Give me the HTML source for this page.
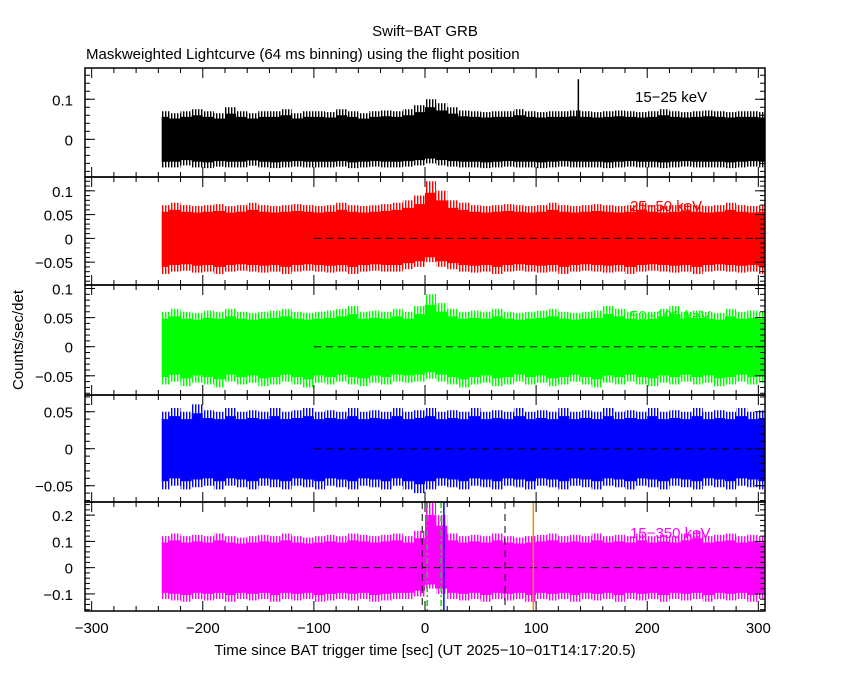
<!DOCTYPE html>
<html><head><meta charset="utf-8"><style>
body{margin:0;background:#fff}
svg text{font-family:"Liberation Sans",sans-serif;font-size:15px}
</style></head><body>
<svg id="c" width="850" height="680" viewBox="0 0 850 680">
<defs id="defs"></defs>
<text x="425" y="36" text-anchor="middle">Swift−BAT GRB</text>
<text x="86" y="59">Maskweighted Lightcurve (64 ms binning) using the flight position</text>
<text transform="translate(23,340) rotate(-90)" text-anchor="middle">Counts/sec/det</text>
<text x="425" y="655" text-anchor="middle">Time since BAT trigger time [sec] (UT 2025−10−01T14:17:20.5)</text>
<g id="g"></g>
</svg>
<script>
const times = [-237,-230,-220,-210,-200,-190,-180,-170,-160,-150,-140,-130,-120,-110,-100,-90,-80,-70,-60,-50,-40,-30,-20,-10,0,10,20,30,40,50,60,70,80,90,100,110,120,130,140,150,160,170,180,190,200,210,220,230,240,250,260,270,280,290,300];
const hi1 = [0.07,0.065,0.07,0.075,0.07,0.065,0.08,0.07,0.065,0.07,0.07,0.075,0.065,0.07,0.07,0.068,0.075,0.07,0.065,0.07,0.072,0.07,0.075,0.085,0.1,0.09,0.08,0.072,0.07,0.068,0.07,0.07,0.075,0.07,0.068,0.07,0.07,0.072,0.07,0.068,0.07,0.072,0.07,0.068,0.07,0.075,0.07,0.068,0.07,0.072,0.07,0.068,0.07,0.07,0.068];
const lo1 = [-0.07,-0.07,-0.065,-0.07,-0.072,-0.068,-0.07,-0.07,-0.066,-0.07,-0.072,-0.07,-0.068,-0.07,-0.07,-0.07,-0.068,-0.072,-0.07,-0.068,-0.07,-0.07,-0.068,-0.065,-0.06,-0.065,-0.068,-0.07,-0.07,-0.072,-0.07,-0.068,-0.07,-0.07,-0.072,-0.07,-0.068,-0.07,-0.07,-0.07,-0.072,-0.07,-0.068,-0.07,-0.07,-0.072,-0.07,-0.068,-0.07,-0.07,-0.07,-0.072,-0.07,-0.068,-0.07];
const hi2 = [0.07,0.075,0.07,0.068,0.07,0.072,0.068,0.07,0.075,0.07,0.068,0.07,0.072,0.07,0.068,0.07,0.075,0.07,0.068,0.07,0.072,0.075,0.08,0.09,0.12,0.1,0.08,0.075,0.07,0.068,0.07,0.072,0.07,0.068,0.07,0.075,0.07,0.068,0.07,0.072,0.07,0.068,0.07,0.075,0.07,0.068,0.07,0.072,0.07,0.068,0.07,0.075,0.07,0.068,0.07];
const lo2 = [-0.075,-0.07,-0.068,-0.072,-0.07,-0.075,-0.07,-0.068,-0.07,-0.072,-0.07,-0.075,-0.07,-0.068,-0.07,-0.072,-0.07,-0.075,-0.07,-0.068,-0.07,-0.07,-0.065,-0.06,-0.05,-0.06,-0.065,-0.07,-0.072,-0.07,-0.075,-0.07,-0.068,-0.07,-0.072,-0.07,-0.075,-0.07,-0.068,-0.07,-0.072,-0.07,-0.075,-0.07,-0.068,-0.07,-0.072,-0.07,-0.075,-0.07,-0.068,-0.07,-0.072,-0.07,-0.075];
const hi3 = [0.06,0.065,0.06,0.058,0.062,0.06,0.065,0.06,0.058,0.06,0.062,0.065,0.06,0.058,0.06,0.062,0.065,0.07,0.06,0.062,0.06,0.065,0.06,0.07,0.09,0.075,0.065,0.06,0.062,0.06,0.065,0.06,0.058,0.06,0.062,0.065,0.06,0.058,0.06,0.062,0.07,0.065,0.06,0.058,0.06,0.065,0.07,0.06,0.062,0.06,0.058,0.065,0.06,0.062,0.06];
const lo3 = [-0.065,-0.06,-0.068,-0.062,-0.065,-0.07,-0.06,-0.065,-0.062,-0.068,-0.065,-0.06,-0.065,-0.07,-0.062,-0.065,-0.06,-0.065,-0.068,-0.062,-0.065,-0.06,-0.062,-0.06,-0.055,-0.06,-0.065,-0.07,-0.065,-0.062,-0.068,-0.065,-0.06,-0.065,-0.062,-0.068,-0.065,-0.06,-0.065,-0.07,-0.062,-0.065,-0.06,-0.065,-0.068,-0.062,-0.065,-0.06,-0.065,-0.062,-0.068,-0.065,-0.06,-0.065,-0.062];
const hi4 = [0.05,0.055,0.05,0.06,0.052,0.05,0.055,0.05,0.052,0.05,0.055,0.05,0.052,0.055,0.05,0.052,0.05,0.055,0.05,0.052,0.05,0.055,0.05,0.052,0.055,0.05,0.052,0.05,0.055,0.05,0.052,0.05,0.055,0.05,0.052,0.05,0.055,0.05,0.052,0.05,0.055,0.05,0.052,0.05,0.055,0.05,0.052,0.05,0.055,0.05,0.052,0.05,0.055,0.05,0.052];
const lo4 = [-0.055,-0.05,-0.055,-0.052,-0.05,-0.055,-0.05,-0.052,-0.055,-0.05,-0.052,-0.055,-0.05,-0.052,-0.055,-0.05,-0.052,-0.055,-0.05,-0.052,-0.055,-0.05,-0.055,-0.06,-0.055,-0.05,-0.052,-0.055,-0.05,-0.052,-0.055,-0.05,-0.052,-0.055,-0.05,-0.052,-0.055,-0.05,-0.052,-0.055,-0.05,-0.052,-0.055,-0.05,-0.052,-0.055,-0.05,-0.052,-0.055,-0.05,-0.052,-0.055,-0.05,-0.052,-0.055];
const hi5 = [0.12,0.13,0.12,0.125,0.12,0.13,0.12,0.115,0.12,0.125,0.12,0.13,0.12,0.115,0.12,0.125,0.12,0.13,0.125,0.12,0.125,0.13,0.12,0.14,0.25,0.2,0.13,0.12,0.125,0.12,0.13,0.12,0.115,0.12,0.125,0.13,0.12,0.125,0.12,0.13,0.12,0.125,0.12,0.13,0.12,0.125,0.12,0.13,0.14,0.12,0.125,0.13,0.12,0.125,0.12];
const lo5 = [-0.12,-0.125,-0.13,-0.12,-0.125,-0.12,-0.13,-0.12,-0.125,-0.12,-0.13,-0.12,-0.125,-0.12,-0.13,-0.125,-0.12,-0.125,-0.12,-0.13,-0.125,-0.12,-0.12,-0.11,-0.08,-0.1,-0.12,-0.125,-0.12,-0.13,-0.12,-0.125,-0.12,-0.13,-0.12,-0.125,-0.12,-0.13,-0.12,-0.125,-0.12,-0.13,-0.12,-0.125,-0.12,-0.13,-0.12,-0.125,-0.12,-0.13,-0.12,-0.125,-0.12,-0.13,-0.12];
const spikeTimes = [138];
const spikeVals = [0.15];
const xTicks = [-300,-200,-100,0,100,200,300];
const bandLabels = ["15−25 keV","25−50 keV","50−100 keV","","15−350 keV"];
const eventTimes = [-2.5,72];
const t90Times = [2,14.5];
const peakTime = 17;
const orangeTime = 97.5;
const tEnd = 306;

const NS="http://www.w3.org/2000/svg", G=document.getElementById('g'), D=document.getElementById('defs');
function el(t,a,p){const e=document.createElementNS(NS,t);for(const k in a)e.setAttribute(k,a[k]);(p||G).appendChild(e);return e;}
const X0=85,X1=765,XMIN=-306,XMAX=306;
const sx=t=>X0+(t-XMIN)/(XMAX-XMIN)*(X1-X0);
const panels=[
 {top:68,bot:177,min:-0.094,max:0.178,maj:[0.1,0],lab:["0.1","0"],minor:0.02,col:"#000",hi:hi1,lo:lo1,name:"15-25"},
 {top:177,bot:285,min:-0.098,max:0.129,maj:[0.1,0.05,0,-0.05],lab:["0.1","0.05","0","−0.05"],minor:0.01,col:"#f00",hi:hi2,lo:lo2,name:"25-50"},
 {top:285,bot:395,min:-0.083,max:0.106,maj:[0.1,0.05,0,-0.05],lab:["0.1","0.05","0","−0.05"],minor:0.01,col:"#0f0",hi:hi3,lo:lo3,name:"50-100"},
 {top:395,bot:502,min:-0.072,max:0.0726,maj:[0.05,0,-0.05],lab:["0.05","0","−0.05"],minor:0.01,col:"#00f",hi:hi4,lo:lo4,name:"100-350"},
 {top:502,bot:611,min:-0.165,max:0.25,maj:[0.2,0.1,0,-0.1],lab:["0.2","0.1","0","−0.1"],minor:0.02,col:"#f0f",hi:hi5,lo:lo5,name:"15-350"}];
panels.forEach((p,i)=>{
 const sy=v=>p.bot-(v-p.min)/(p.max-p.min)*(p.bot-p.top);
 const pat=el('pattern',{id:'pt'+i,width:3,height:7,patternUnits:'userSpaceOnUse'},D);
 el('rect',{x:0,y:0,width:1.4,height:7,fill:p.col},pat);
 const g=el('g',{});
 
 
 const poly=(k)=>{let up=[],dn=[];
  times.forEach((t,j)=>{const t2=Math.min(j<times.length-1?times[j+1]:tEnd,tEnd);
   up.push(sx(t)+','+sy(p.hi[j]*k),sx(t2)+','+sy(p.hi[j]*k));
   dn.unshift(sx(t2)+','+sy(p.lo[j]*k),sx(t)+','+sy(p.lo[j]*k));});
  return up.concat(dn).join(' ');};
 const outer=el('polygon',{points:poly(1),fill:'url(#pt'+i+')'},g);
 
 
 const core=el('polygon',{points:poly(0.8),fill:p.col},g);
 
 
 if(i===0) spikeTimes.forEach((t,k)=>{const s=el('line',{x1:sx(t),x2:sx(t),y1:sy(0),y2:sy(spikeVals[k]),stroke:p.col,'stroke-width':1.5},g);
  
  });
 if(i>0){const z=el('line',{x1:sx(-100),x2:sx(tEnd),y1:sy(0),y2:sy(0),stroke:'#000','stroke-dasharray':'7,5'},g);
  
  }
 if(i===4){
  eventTimes.forEach(t=>{const l=el('line',{x1:sx(t),x2:sx(t),y1:p.top,y2:p.bot,stroke:'#000','stroke-dasharray':'7,5'},g);
   
   });
  t90Times.forEach(t=>{const l=el('line',{x1:sx(t),x2:sx(t),y1:p.top,y2:p.bot,stroke:'#0d0','stroke-width':1.5,'stroke-dasharray':'6,3,2,3'},g);
   
   });
  const b=el('line',{x1:sx(peakTime),x2:sx(peakTime),y1:p.top,y2:p.bot,stroke:'#00f','stroke-width':1.5},g);
  
  
  const o=el('line',{x1:sx(orangeTime),x2:sx(orangeTime),y1:p.top,y2:p.bot,stroke:'#f80','stroke-width':1.5},g);
  
  
 }
 if(bandLabels[i]){const tl=el('text',{x:[635,630,630,0,630][i],y:[102,211,321,0,538][i],fill:p.col},g);tl.textContent=bandLabels[i];
  
  }
 el('rect',{x:X0,y:p.top,width:X1-X0,height:p.bot-p.top,fill:'none',stroke:'#000','stroke-width':1.5},g);
 for(let v=Math.ceil(p.min/p.minor)*p.minor;v<=p.max;v+=p.minor){const y=sy(v);
  el('line',{x1:X0,x2:X0+5,y1:y,y2:y,stroke:'#000'},g);el('line',{x1:X1,x2:X1-5,y1:y,y2:y,stroke:'#000'},g);}
 p.maj.forEach((v,k)=>{const y=sy(v);
  el('line',{x1:X0,x2:X0+10,y1:y,y2:y,stroke:'#000'},g);el('line',{x1:X1,x2:X1-10,y1:y,y2:y,stroke:'#000'},g);
  const t=el('text',{x:73,y:y+6,'text-anchor':'end'},g);t.textContent=p.lab[k];
  
  });
 for(let t=-300;t<=300;t+=20){const x=sx(t),L=(t%100===0)?10:5;
  el('line',{x1:x,x2:x,y1:p.top,y2:p.top+L,stroke:'#000'},g);el('line',{x1:x,x2:x,y1:p.bot,y2:p.bot-L,stroke:'#000'},g);}
});
xTicks.forEach(t=>{const tx=el('text',{x:sx(t),y:633,'text-anchor':'middle'});tx.textContent=String(t).replace('-','−');
 
 });
</script>
</body></html>
